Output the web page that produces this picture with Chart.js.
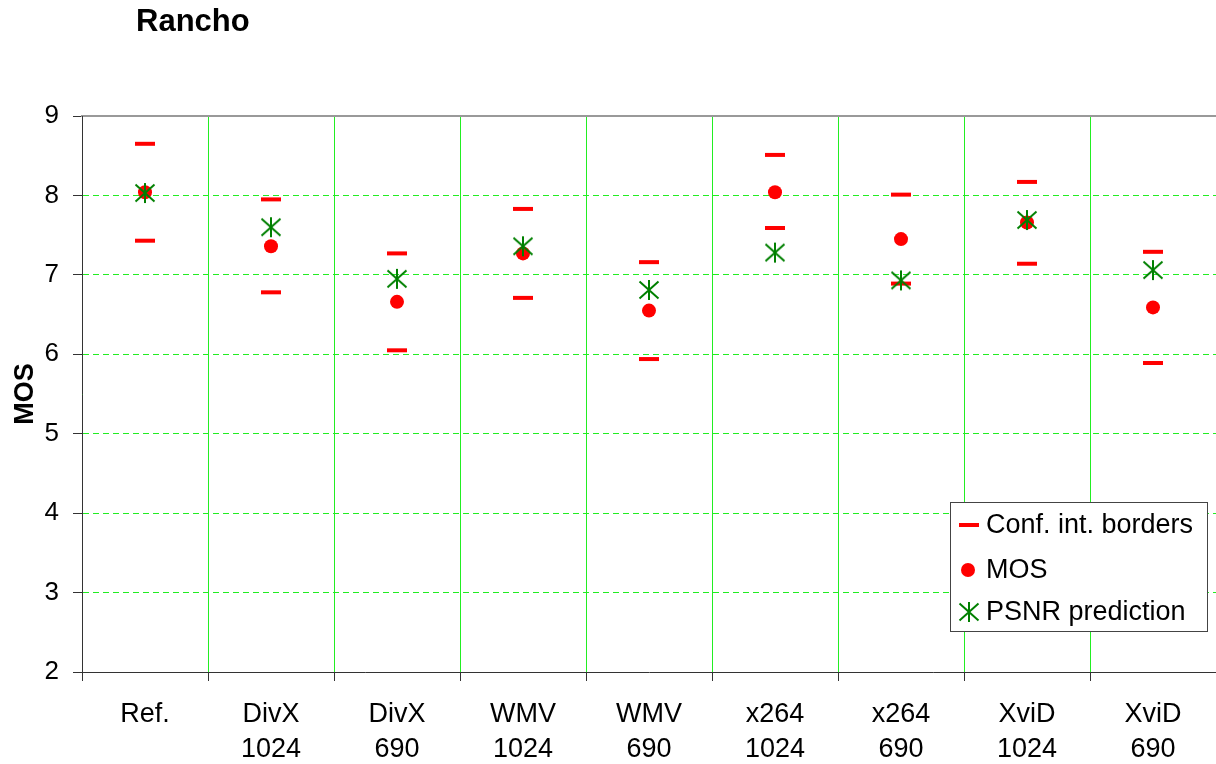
<!DOCTYPE html>
<html>
<head>
<meta charset="utf-8">
<style>
  html, body { margin: 0; padding: 0; background: #fff; }
  #wrap { width: 1216px; height: 764px; }
</style>
<script src="https://cdn.jsdelivr.net/npm/chart.js@4/dist/chart.umd.min.js"></script>
</head>
<body>
<div id="wrap"><canvas id="c" width="1216" height="764"></canvas></div>
<script>
const chartTitle = 'Rancho';
const yAxisTitle = 'MOS';
const categories = [['Ref.'], ['DivX', '1024'], ['DivX', '690'], ['WMV', '1024'], ['WMV', '690'],
                    ['x264', '1024'], ['x264', '690'], ['XviD', '1024'], ['XviD', '690']];
const ciUpper = [8.65, 7.95, 7.27, 7.83, 7.16, 8.51, 8.01, 8.17, 7.29];
const ciLower = [7.43, 6.78, 6.05, 6.71, 5.94, 7.59, 6.89, 7.14, 5.89];
const mosValues = [8.04, 7.36, 6.66, 7.27, 6.55, 8.04, 7.45, 7.66, 6.59];
const psnrValues = [8.03, 7.60, 6.95, 7.36, 6.81, 7.28, 6.93, 7.69, 7.06];
const yTicks = [2, 3, 4, 5, 6, 7, 8, 9];
const legendLabels = ['Conf. int. borders', 'MOS', 'PSNR prediction'];

const FONT = "'Liberation Sans', Arial, sans-serif";

// asterisk marker (X with vertical bar)
function makeStar(color) {
  const c = document.createElement('canvas');
  c.width = 22; c.height = 22;
  const g = c.getContext('2d');
  g.strokeStyle = color; g.lineWidth = 2;
  g.beginPath();
  g.moveTo(11, 1); g.lineTo(11, 21);
  g.moveTo(1.5, 2.5); g.lineTo(20.5, 19.5);
  g.moveTo(20.5, 2.5); g.lineTo(1.5, 19.5);
  g.stroke();
  return c;
}
const starImg = makeStar('#008000');

const titleShift = {
  id: 'titleShift',
  afterLayout(chart) {
    if (chart.titleBlock) {
      chart.titleBlock.left = 136;
    }
  }
};

const boxLegend = {
  id: 'boxLegend',
  afterDraw(chart) {
    const ctx = chart.ctx;
    ctx.save();
    const bx = 950.5, by = 502.5, bw = 257, bh = 129;
    ctx.fillStyle = '#ffffff';
    ctx.fillRect(bx, by, bw, bh);
    ctx.strokeStyle = '#444';
    ctx.lineWidth = 1;
    ctx.strokeRect(bx, by, bw, bh);
    const rows = [525, 570, 612];
    const mx = 969;
    ctx.strokeStyle = '#ff0000'; ctx.lineWidth = 4;
    ctx.beginPath(); ctx.moveTo(mx - 10, rows[0]); ctx.lineTo(mx + 10, rows[0]); ctx.stroke();
    ctx.fillStyle = '#ff0000';
    ctx.beginPath(); ctx.arc(mx - 1, rows[1], 7, 0, Math.PI * 2); ctx.fill();
    ctx.drawImage(starImg, mx - 11, rows[2] - 11);
    ctx.fillStyle = '#000';
    ctx.font = '27px ' + FONT;
    ctx.textBaseline = 'middle';
    ctx.textAlign = 'left';
    legendLabels.forEach((t, i) => ctx.fillText(t, 986, rows[i] + 1));
    ctx.restore();
  }
};

new Chart(document.getElementById('c'), {
  type: 'line',
  data: {
    labels: categories,
    datasets: [
      { label: legendLabels[2], data: psnrValues, showLine: false, pointStyle: starImg, order: 0 },
      { label: legendLabels[1], data: mosValues, showLine: false, pointStyle: 'circle', pointRadius: 7,
        pointBackgroundColor: '#ff0000', pointBorderWidth: 0, pointBorderColor: '#ff0000', order: 1 },
      { label: legendLabels[0], data: ciUpper, showLine: false, pointStyle: 'line', pointRadius: 10,
        pointBorderColor: '#ff0000', pointBorderWidth: 4, order: 2 },
      { label: legendLabels[0], data: ciLower, showLine: false, pointStyle: 'line', pointRadius: 10,
        pointBorderColor: '#ff0000', pointBorderWidth: 4, order: 3 }
    ]
  },
  options: {
    responsive: false,
    devicePixelRatio: 1,
    animation: false,
    events: [],
    layout: { autoPadding: false, padding: { left: 0, right: 0, top: 0, bottom: 0 } },
    plugins: {
      legend: { display: false },
      tooltip: { enabled: false },
      title: {
        display: true,
        text: chartTitle,
        align: 'start',
        color: '#000',
        font: { family: FONT, size: 31, weight: 'bold', lineHeight: 1.2 },
        padding: { top: 4, bottom: 74.8 }
      }
    },
    scales: {
      x: {
        type: 'category',
        offset: true,
        grid: { offset: true, color: '#22ee22', lineWidth: 1, tickColor: '#333', tickLength: 9 },
        border: { color: '#333', width: 1 },
        ticks: { color: '#000', font: { family: FONT, size: 27, lineHeight: 1.3 }, padding: 16, maxRotation: 0, autoSkip: false },
        afterFit(s) { s.height = 92; s.paddingLeft = 0; s.paddingRight = 0; }
      },
      x2: {
        type: 'category',
        position: 'top',
        offset: true,
        grid: { drawOnChartArea: false, drawTicks: false },
        ticks: { display: false },
        border: { color: '#999', width: 2 },
        afterFit(s) { s.height = 0; s.paddingLeft = 0; s.paddingRight = 0; }
      },
      y: {
        min: yTicks[0],
        max: yTicks[yTicks.length - 1],
        afterBuildTicks(s) { s.ticks = yTicks.map(v => ({ value: v })); },
        grid: {
          color: c => (c.tick && (c.tick.value === 9 || c.tick.value === 2)) ? 'rgba(0,0,0,0)' : '#22ee22',
          lineWidth: 1, tickColor: '#333', tickLength: 9
        },
        border: { color: '#333', width: 1, dash: [6, 4] },
        ticks: { color: '#000', font: { family: FONT, size: 26 }, padding: 14 },
        title: {
          display: true, text: yAxisTitle, color: '#000',
          font: { family: FONT, size: 27, weight: 'bold', lineHeight: 1.2 },
          padding: { top: 9, bottom: 0 }
        },
        afterFit(s) { s.width = 82; }
      }
    }
  },
  plugins: [titleShift, boxLegend]
});
</script>
</body>
</html>
